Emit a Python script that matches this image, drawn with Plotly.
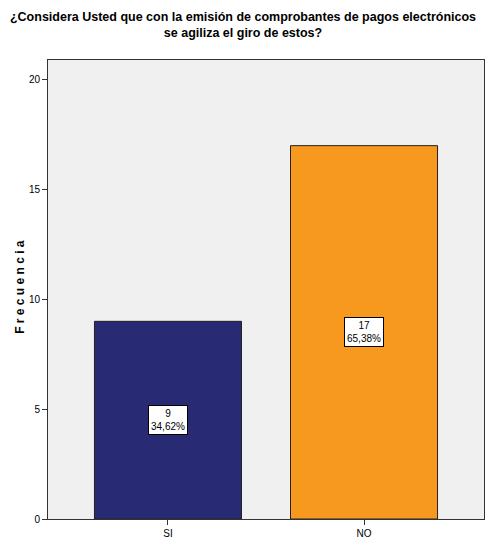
import plotly.graph_objects as go

categories = ["SI", "NO"]
counts = [9, 17]
percents = ["34,62%", "65,38%"]
bar_colors = ["#282A74", "#F7991F"]
y_ticks = [0, 5, 10, 15, 20]

FONT = "Liberation Sans, Arial, sans-serif"

fig = go.Figure()
fig.add_trace(go.Bar(
    x=categories, y=counts, width=0.75,
    marker=dict(color=bar_colors, line=dict(color="#222222", width=1)),
    hoverinfo="skip",
))

for c, v, p in zip(categories, counts, percents):
    fig.add_annotation(
        x=c, y=v / 2, text=f"{v}<br>{p}", showarrow=False,
        font=dict(family=FONT, size=10, color="black"),
        bgcolor="white", bordercolor="black", borderwidth=1, borderpad=2,
    )

# y-axis title as a rotated annotation
fig.add_annotation(
    xref="paper", yref="paper", x=-0.064, y=0.506, xanchor="center", yanchor="middle",
    text="<b>F r e c u e n c i a</b>",
    textangle=-90, showarrow=False,
    font=dict(family=FONT, size=12, color="black"),
)

fig.update_layout(
    width=486, height=542,
    paper_bgcolor="white", plot_bgcolor="#F0F0F0",
    margin=dict(l=48, r=2, t=60, b=23),
    showlegend=False,
    title=dict(
        text="<b>¿Considera Usted que con la emisión de comprobantes de pagos electrónicos<br>se agiliza el giro de estos?</b>",
        x=0.5, xanchor="center", y=0.962, yanchor="top",
        font=dict(family=FONT, size=12.5, color="black"),
    ),
    font=dict(family=FONT, size=10, color="black"),
)
fig.update_xaxes(
    range=[-0.612, 1.612], showline=True, linecolor="#333333", linewidth=1,
    mirror=True, ticks="outside", ticklen=5, tickcolor="#333333",
    showgrid=False, tickfont=dict(family=FONT, size=10),
)
fig.update_yaxes(
    range=[0, 20.9], tickvals=y_ticks, showline=True, linecolor="#333333",
    linewidth=1, mirror=True, ticks="outside", ticklen=5, tickcolor="#333333",
    showgrid=False, zeroline=False, tickfont=dict(family=FONT, size=10),
)

fig.write_html("out.html", config={"displayModeBar": False},
               post_script="document.body.style.margin='0';")
